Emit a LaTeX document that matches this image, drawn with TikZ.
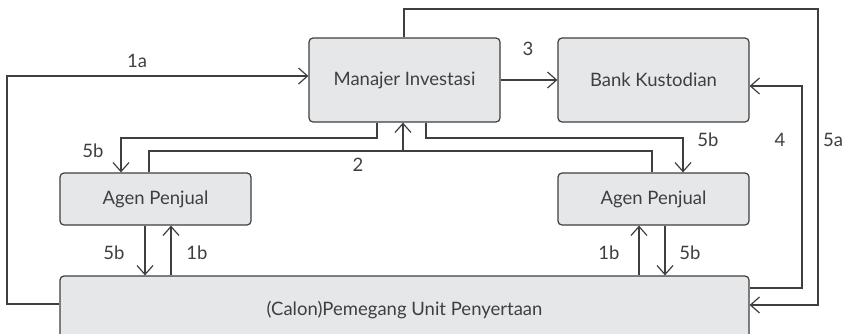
\documentclass[tikz,border=0pt]{standalone}
\usepackage{fontspec}
\setmainfont{Lato}
\usetikzlibrary{arrows.meta}

\definecolor{boxfill}{HTML}{E6E7E8}
\definecolor{ink}{HTML}{3F3F3F}

\tikzset{
    party/.style={draw=ink, fill=boxfill, rounded corners=4pt, line width=1.2pt,
        text=ink, font=\fontsize{18.5}{20}\selectfont, inner sep=0pt},
    flow/.style={draw=ink, line width=1.2pt, -{Straight Barb[length=9pt,width=16pt,line width=1.2pt]}},
    link/.style={draw=ink, line width=1.2pt},
    tag/.style={text=ink, font=\fontsize{18.5}{20}\selectfont, inner sep=0pt}
}

\begin{document}
\begin{tikzpicture}[x=1pt, y=-1pt]
        \clip (0, 0) rectangle (851, 333);
        \fill[white] (0, 0) rectangle (851, 333);

        \node[party, minimum width=191pt, minimum height=84pt] (mgr) at (404.5, 80) {Manajer Investasi};
        \node[party, minimum width=191pt, minimum height=84pt] (bank) at (653.5, 80) {Bank Kustodian};
        \node[party, minimum width=191pt, minimum height=52pt] (agenL) at (155.5, 199) {Agen Penjual};
        \node[party, minimum width=191pt, minimum height=52pt] (agenR) at (653.5, 199) {Agen Penjual};
        \node[party, minimum width=689pt, minimum height=64pt, text depth=0pt] (holder) at (404.5, 308) {(Calon)Pemegang Unit Penyertaan};

        % 1a, 5a, 4 round the outside
        \draw[flow] (holder.west |- 0,304) -| (7, 76) -- (mgr.west |- 0,76);
        \draw[flow] (mgr.north -| 404,0) |- (818, 9) |- (holder.east |- 0,305);
        \draw[flow] (holder.east |- 0,288) -| (802, 86) -- (bank.east |- 0,86);

        % 3
        \draw[flow] (mgr.east) -- (bank.west);

        % 5b and 2 between manager and agents
        \draw[flow] (mgr.south -| 377,0) |- (121, 138) -- (agenL.north -| 121,0);
        \draw[flow] (mgr.south -| 426,0) |- (683, 138) -- (agenR.north -| 683,0);
        \draw[link] (agenL.north -| 149,0) |- (652, 151) -- (agenR.north -| 652,0);
        \draw[flow] (403, 151) -- (mgr.south -| 403,0);

        % agents and holders
        \draw[flow] (agenL.south -| 145,0) -- (holder.north -| 145,0);
        \draw[flow] (holder.north -| 171,0) -- (agenL.south -| 171,0);
        \draw[flow] (holder.north -| 639,0) -- (agenR.south -| 639,0);
        \draw[flow] (agenR.south -| 665,0) -- (holder.north -| 665,0);

        \node[tag] (t1a) at (137, 61) {1a};
        \node[tag] (t3) at (528, 49) {3};
        \node[tag] (t5bL) at (93, 151) {5b};
        \node[tag] (t2) at (358, 165) {2};
        \node[tag] (t5bR) at (708, 140) {5b};
        \node[tag] (t4) at (780, 140) {4};
        \node[tag] (t5a) at (833, 140) {5a};
        \node[tag] (t5bLL) at (114, 253) {5b};
        \node[tag] (t1bL) at (197, 253) {1b};
        \node[tag] (t1bR) at (609, 253) {1b};
        \node[tag] (t5bRR) at (690, 253) {5b};
    \end{tikzpicture}
\end{document}
